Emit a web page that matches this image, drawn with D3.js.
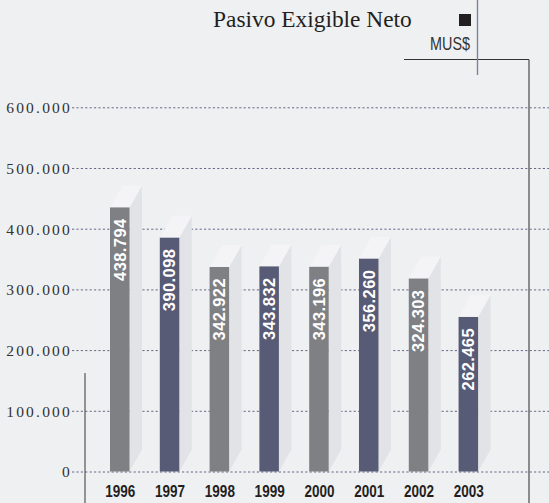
<!DOCTYPE html>
<html>
<head>
<meta charset="utf-8">
<script src="https://cdn.jsdelivr.net/npm/d3@7"></script>
<style>
  html, body { margin: 0; padding: 0; background: #eff0f2; }
  svg { display: block; }
</style>
</head>
<body>
<svg id="chart" width="549" height="503"></svg>
<script>
const years = ["1996", "1997", "1998", "1999", "2000", "2001", "2002", "2003"];
const values = [438794, 390098, 342922, 343832, 343196, 356260, 324303, 262465];
const valueLabels = ["438.794", "390.098", "342.922", "343.832", "343.196", "356.260", "324.303", "262.465"];
const tickValues = [0, 100000, 200000, 300000, 400000, 500000, 600000];
const tickLabels = ["0", "100.000", "200.000", "300.000", "400.000", "500.000", "600.000"];
const barColors = ["#7f8084", "#575b76"];
const title = "Pasivo Exigible Neto";
const unit = "MUS$";

const sansFont = "'Liberation Sans', Arial, sans-serif";
const serifFont = "'Liberation Serif', 'DejaVu Serif', serif";

const svg = d3.select("#chart");
svg.append("rect").attr("width", 549).attr("height", 503).attr("fill", "#eff0f2");

const yGrid = d3.scaleLinear().domain([0, 600000]).range([471.5, 107.3]);
const yBar = d3.scaleLinear().domain([0, 600000]).range([480, 107.3]);
const x = d3.scaleBand().domain(years).range([110, 478.1]).paddingInner(0.608).paddingOuter(0);

const depthX = 12.5, depthY = 22;

// grid + axis labels
const axis = d3.axisLeft(yGrid)
  .tickValues(tickValues)
  .tickSize(-477)
  .tickPadding(0)
  .tickFormat(d => tickLabels[tickValues.indexOf(d)]);
const ag = svg.append("g").attr("transform", "translate(72,0)").call(axis);
ag.select(".domain").remove();
ag.selectAll(".tick line")
  .attr("stroke", "#666985")
  .attr("stroke-width", 1)
  .attr("stroke-dasharray", "2.2,2.2");
ag.selectAll(".tick text")
  .attr("fill", "#333")
  .attr("font-family", serifFont)
  .attr("font-size", 15.5)
  .attr("letter-spacing", "2.2px")
  .attr("dy", "0.35em");

// bars
const bw = x.bandwidth();
const g = svg.append("g");
years.forEach((yr, i) => {
  const x0 = x(yr), x1 = x0 + bw;
  const top = yBar(values[i]);
  const bottom = yGrid(0);
  // side face
  g.append("path")
    .attr("d", `M${x1},${top} L${x1 + depthX},${top - depthY} L${x1 + depthX},${bottom - depthY} L${x1},${bottom} Z`)
    .attr("fill", "#e2e3e6");
  // top face
  g.append("path")
    .attr("d", `M${x0},${top} L${x0 + depthX},${top - depthY} L${x1 + depthX},${top - depthY} L${x1},${top} Z`)
    .attr("fill", "#f4f4f6");
  // front face
  g.append("rect")
    .attr("x", x0).attr("y", top)
    .attr("width", bw).attr("height", bottom - top)
    .attr("fill", barColors[i % 2]);
  // value label
  const fs = 16.5;
  g.append("text")
    .attr("transform", `translate(${x0 + bw / 2 + fs * 0.36},${top + 11}) rotate(-90)`)
    .attr("text-anchor", "end")
    .attr("fill", "#ffffff")
    .attr("font-family", sansFont)
    .attr("font-weight", "bold")
    .attr("font-size", fs)
    .attr("letter-spacing", "0.4px")
    .text(valueLabels[i]);
  // year label
  g.append("text")
    .attr("transform", `translate(${x0 + bw / 2 + 0.5},496.5) scale(0.82,1)`)
    .attr("text-anchor", "middle")
    .attr("fill", "#231f20")
    .attr("font-family", sansFont)
    .attr("font-weight", "bold")
    .attr("font-size", 16.5)
    .text(yr);
});

// frame lines
svg.append("line").attr("x1", 85).attr("x2", 85).attr("y1", 373).attr("y2", 503)
  .attr("stroke", "#555").attr("stroke-width", 1.2);
svg.append("line").attr("x1", 404).attr("x2", 529).attr("y1", 59.5).attr("y2", 59.5)
  .attr("stroke", "#333").attr("stroke-width", 1);
svg.append("line").attr("x1", 529).attr("x2", 529).attr("y1", 59.5).attr("y2", 503)
  .attr("stroke", "#555").attr("stroke-width", 1.3);
svg.append("line").attr("x1", 477.5).attr("x2", 477.5).attr("y1", 0).attr("y2", 75)
  .attr("stroke", "#7e829e").attr("stroke-width", 1.4);

// title
svg.append("text")
  .attr("x", 213).attr("y", 27)
  .attr("fill", "#231f20")
  .attr("font-family", serifFont)
  .attr("font-size", 23.4)
  .text(title);
svg.append("rect").attr("x", 459).attr("y", 14).attr("width", 12).attr("height", 12).attr("fill", "#231f20");
svg.append("text")
  .attr("transform", "translate(470,49.5) scale(0.8,1)")
  .attr("text-anchor", "end")
  .attr("fill", "#333")
  .attr("font-family", sansFont)
  .attr("font-size", 18)
  .text(unit);
</script>
</body>
</html>
